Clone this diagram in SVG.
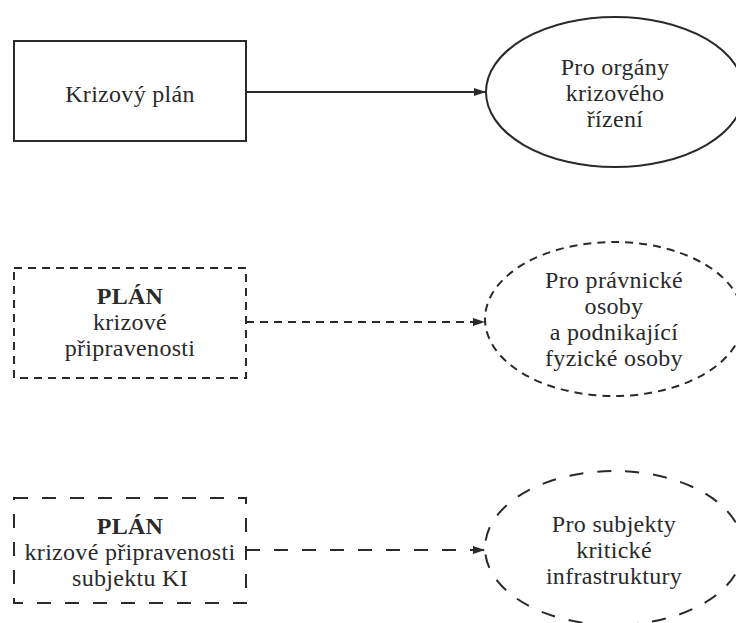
<svg xmlns="http://www.w3.org/2000/svg" width="736" height="623" viewBox="0 0 736 623">
<defs>
<style>
.t{font-family:"Liberation Serif","Times New Roman",serif;font-size:24px;letter-spacing:0.3px;fill:#2a2a2a;text-anchor:middle}
.b{font-weight:bold}
.sh{fill:none;stroke:#2a2a2a;stroke-width:2}
.d1{stroke-dasharray:8 6}
.d2{stroke-dasharray:14 14}
.c{fill:none;stroke:#2a2a2a;stroke-width:2}
</style>
<marker id="ah" markerUnits="userSpaceOnUse" markerWidth="12" markerHeight="10" refX="12" refY="4" orient="auto">
<path d="M0,0 L12,4 L0,8 z" fill="#2a2a2a"/>
</marker>
</defs>
<rect width="736" height="623" fill="#fff"/>
<g id="krizovy-plan">
<rect class="sh" x="14" y="41" width="232" height="100"/>
<text class="t" x="130" y="102">Krizový plán</text>
</g>
<g id="organy">
<ellipse class="sh" cx="615" cy="92" rx="129" ry="75"/>
<text class="t" x="615" y="75">Pro orgány</text>
<text class="t" x="615" y="101">krizového</text>
<text class="t" x="615" y="127">řízení</text>
</g>
<g id="plan-pripravenosti">
<rect class="sh d1" x="14" y="268" width="232" height="110"/>
<text class="t b" x="130" y="304">PLÁN</text>
<text class="t" x="130" y="330">krizové</text>
<text class="t" x="130" y="356">připravenosti</text>
</g>
<g id="pravnicke">
<ellipse class="sh d1" cx="614" cy="319" rx="129" ry="77"/>
<text class="t" x="614" y="288">Pro právnické</text>
<text class="t" x="614" y="314">osoby</text>
<text class="t" x="614" y="340">a podnikající</text>
<text class="t" x="614" y="366">fyzické osoby</text>
</g>
<g id="plan-ki">
<rect class="sh d2" x="14" y="498" width="232" height="105"/>
<text class="t b" x="130" y="534">PLÁN</text>
<text class="t" x="130" y="560">krizové připravenosti</text>
<text class="t" x="130" y="586">subjektu KI</text>
</g>
<g id="ki">
<ellipse class="sh d2" cx="614" cy="548" rx="129" ry="77"/>
<text class="t" x="614" y="532">Pro subjekty</text>
<text class="t" x="614" y="558">kritické</text>
<text class="t" x="614" y="584">infrastruktury</text>
</g>
<g id="connectors">
<line class="c" x1="246" y1="92" x2="486" y2="92" marker-end="url(#ah)"/>
<line class="c d1" x1="246" y1="322" x2="485" y2="322" marker-end="url(#ah)"/>
<line class="c d2" x1="246" y1="550" x2="485" y2="550" marker-end="url(#ah)"/>
</g>
</svg>
